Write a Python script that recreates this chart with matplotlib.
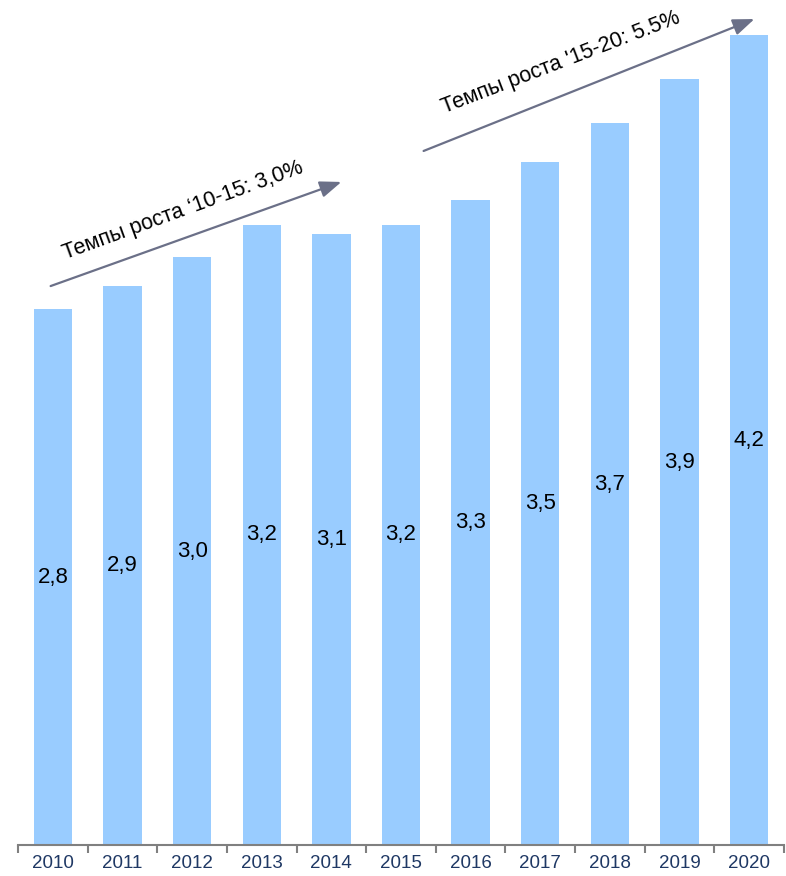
import numpy as np
import matplotlib
matplotlib.use('Agg')
import matplotlib.pyplot as plt

plt.rcParams['font.family'] = ['Liberation Sans', 'DejaVu Sans']

# Данные
years = ['2010', '2011', '2012', '2013', '2014', '2015', '2016', '2017', '2018', '2019', '2020']
values = [2.80, 2.92, 3.07, 3.24, 3.19, 3.24, 3.37, 3.57, 3.77, 4.00, 4.23]
value_labels = ['2,8', '2,9', '3,0', '3,2', '3,1', '3,2', '3,3', '3,5', '3,7', '3,9', '4,2']
growth_texts = ['Темпы роста \u201810-15: 3,0%', "Темпы роста '15-20: 5.5%"]

fig = plt.figure(figsize=(7.86, 8.76), dpi=100)
ax = fig.add_axes([18 / 786, 31 / 876, 766 / 786, 845 / 876])

x = np.arange(len(years))
bars = ax.bar(x, values, width=0.55, color='#99CCFF', zorder=2)

for xi, v, lab in zip(x, values, value_labels):
    ax.text(xi, v / 2, lab, ha='center', va='center', fontsize=16, color='black')

ax.set_xlim(-0.5, len(years) - 0.5)
ax.set_ylim(0, 845 / 191.4)

for s in ['top', 'right', 'left']:
    ax.spines[s].set_visible(False)
ax.spines['bottom'].set_color('#808080')
ax.spines['bottom'].set_linewidth(1.5)
ax.set_yticks([])
ax.set_xticks(x)
ax.set_xticklabels(years, fontsize=13.5, color='#1F3864')
ax.tick_params(axis='x', which='major', length=0, pad=7)
ax.set_xticks(np.arange(-0.5, len(years), 1.0), minor=True)
ax.tick_params(axis='x', which='minor', length=6, width=1.5, color='#808080')

# Стрелки роста
arrow_color = '#6B7088'
fig.patches.append(matplotlib.patches.FancyArrowPatch(
    (48 / 786, 1 - 287 / 876), (344 / 786, 1 - 181 / 876), transform=fig.transFigure,
    arrowstyle='-|>,head_length=13,head_width=5', color=arrow_color, lw=1.6, mutation_scale=1))
fig.patches.append(matplotlib.patches.FancyArrowPatch(
    (421 / 786, 1 - 152 / 876), (757 / 786, 1 - 18 / 876), transform=fig.transFigure,
    arrowstyle='-|>,head_length=13,head_width=5', color=arrow_color, lw=1.6, mutation_scale=1))

fig.text(183 / 786, 1 - 211 / 876, growth_texts[0], rotation=20, ha='center', va='center',
         fontsize=15.5, rotation_mode='anchor')
fig.text(561 / 786, 1 - 63 / 876, growth_texts[1], rotation=21, ha='center', va='center',
         fontsize=15.5, rotation_mode='anchor')

fig.savefig('out.png', dpi=100)
